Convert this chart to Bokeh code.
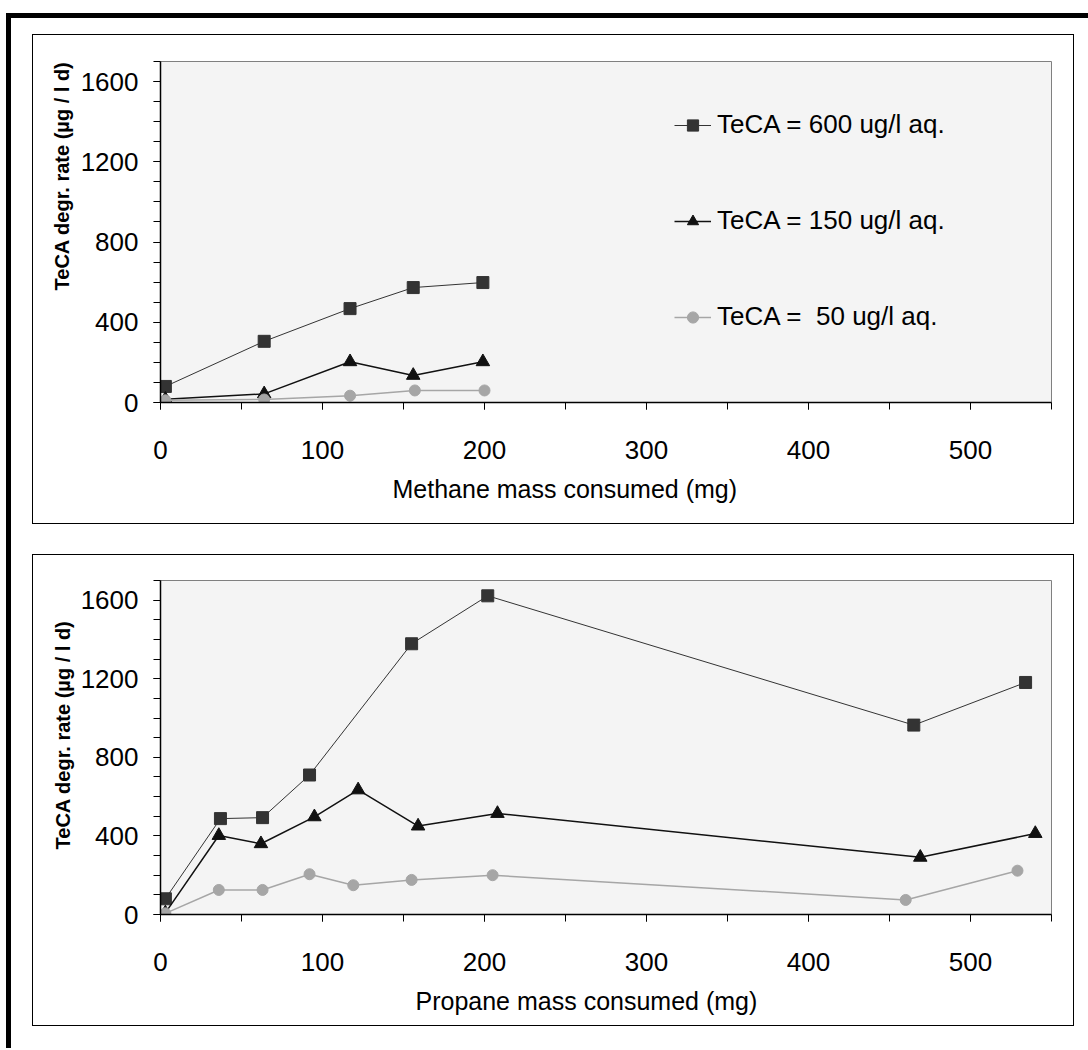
import math
from bokeh.plotting import figure
from bokeh.models import SingleIntervalTicker, Legend, LegendItem, Title
from bokeh.layouts import column
from bokeh.embed import file_html
from bokeh.resources import INLINE

# ---------------- data ----------------
series_labels = ["TeCA = 600 ug/l aq.", "TeCA = 150 ug/l aq.", "TeCA =  50 ug/l aq."]

methane_x_600 = [3, 64, 117, 156, 199]
methane_y_600 = [80, 305, 468, 573, 598]
methane_x_150 = [3, 64, 117, 156, 199]
methane_y_150 = [16, 43, 203, 135, 203]
methane_x_50 = [3, 64, 117, 157, 200]
methane_y_50 = [11, 15, 34, 60, 60]

propane_x_600 = [3, 37, 63, 92, 155, 202, 465, 534]
propane_y_600 = [80, 488, 493, 710, 1378, 1622, 964, 1181]
propane_x_150 = [3, 36, 62, 95, 122, 159, 208, 469, 540]
propane_y_150 = [8, 402, 360, 497, 634, 450, 514, 291, 412]
propane_x_50 = [3, 36, 63, 92, 119, 155, 205, 460, 529]
propane_y_50 = [6, 125, 125, 205, 149, 176, 200, 74, 223]

x_title_1 = "Methane mass consumed (mg)"
x_title_2 = "Propane mass consumed (mg)"
y_title = "TeCA degr. rate (\u00b5g / l d)"

FONT = "Liberation Sans"
C600 = "#333333"
C150 = "#111111"
C50 = "#a6a6a6"


def make_fig(height, bl, br, bt, bb):
    p = figure(width=1040, height=height, x_range=(0, 550), y_range=(0, 1700),
               output_backend="svg", toolbar_location=None,
               min_border_left=bl, min_border_right=br,
               min_border_top=bt, min_border_bottom=bb)
    p.background_fill_color = "#f4f4f4"
    p.border_fill_color = "white"
    p.outline_line_color = "#808080"
    p.outline_line_width = 1
    p.xgrid.visible = False
    p.ygrid.visible = False
    p.xaxis.ticker = SingleIntervalTicker(interval=100, num_minor_ticks=2)
    p.yaxis.ticker = SingleIntervalTicker(interval=400, num_minor_ticks=4)
    for ax in (p.xaxis[0], p.yaxis[0]):
        ax.axis_line_color = "black"
        ax.axis_line_width = 1.5
        ax.major_tick_line_color = "black"
        ax.minor_tick_line_color = "black"
        ax.major_tick_in = 0
        ax.major_tick_out = 7
        ax.minor_tick_in = 0
        ax.minor_tick_out = 7
        ax.major_label_text_font = FONT
        ax.major_label_text_font_size = "26px"
        ax.major_label_text_color = "black"
    p.xaxis.major_label_standoff = 31
    p.yaxis.major_label_standoff = 15
    return p


def add_series(p, xs, ys, marker, color, lw, size):
    l = p.line(xs, ys, line_color=color, line_width=lw)
    s = p.scatter(xs, ys, marker=marker, size=size, fill_color=color,
                  line_color=color, line_width=1)
    return [l, s]


def add_titles(p, xtext, xoffset, yoffset, ystandoff):
    p.add_layout(Title(text=xtext, align="left", offset=xoffset, standoff=23,
                       text_font=FONT, text_font_size="25px",
                       text_font_style="normal", text_color="black"), "below")
    p.add_layout(Title(text=y_title, align="right", offset=yoffset,
                       standoff=ystandoff, text_font=FONT,
                       text_font_size="20px", text_font_style="bold",
                       text_color="black"), "left")


# ---------------- panel 1 (methane) ----------------
p1 = make_fig(488, 127, 24, 26, 123)
r600 = add_series(p1, methane_x_600, methane_y_600, "square", C600, 1, 12)
r150 = add_series(p1, methane_x_150, methane_y_150, "triangle", C150, 1.5, 13.5)
r50 = add_series(p1, methane_x_50, methane_y_50, "circle", C50, 1.5, 11)

legend = Legend(items=[LegendItem(label=series_labels[0], renderers=r600),
                       LegendItem(label=series_labels[1], renderers=r150),
                       LegendItem(label=series_labels[2], renderers=r50)],
                location=(514, 70), orientation="vertical",
                glyph_width=37, glyph_height=28, label_height=28,
                label_standoff=6, spacing=65, padding=0, margin=0,
                label_text_font=FONT, label_text_font_size="26px",
                label_text_color="black",
                background_fill_alpha=0, border_line_alpha=0)
p1.add_layout(legend)
add_titles(p1, x_title_1, 232, 0, 8.5)

# ---------------- panel 2 (propane) ----------------
p2 = make_fig(470, 122, 24, 25, 113)
add_series(p2, propane_x_600, propane_y_600, "square", C600, 1, 12)
add_series(p2, propane_x_150, propane_y_150, "triangle", C150, 1.5, 13.5)
add_series(p2, propane_x_50, propane_y_50, "circle", C50, 1.5, 11)
add_titles(p2, x_title_2, 255, 40, 6.5)

box_style = {"border": "1px solid black", "box-sizing": "content-box"}
p1.styles = dict(box_style)
p2.styles = dict(box_style)
p1.margin = (16, 14, 0, 21)
p2.margin = (30, 14, 22, 21)

layout = column(p1, p2, spacing=0)
layout.margin = (13, 0, 0, 6)
layout.styles = {"border-top": "5px solid black", "border-left": "5px solid black"}

open("out.html", "w").write(file_html(layout, INLINE))
